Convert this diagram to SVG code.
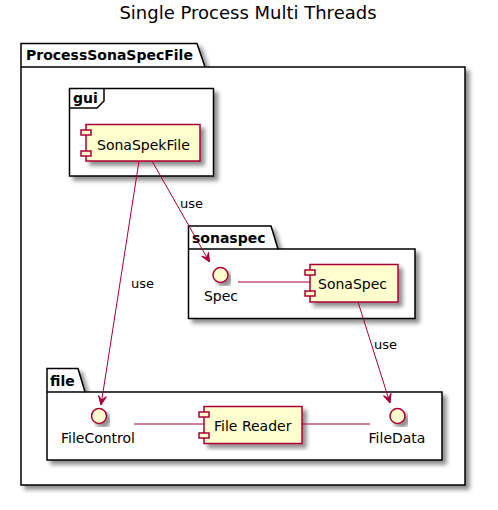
<svg xmlns="http://www.w3.org/2000/svg" width="498" height="510" viewBox="0 0 498 510">
<defs>
<filter id="sh" x="-10%" y="-10%" width="130%" height="130%">
<feGaussianBlur in="SourceAlpha" stdDeviation="2"/>
<feOffset dx="4" dy="4" result="b"/>
<feComponentTransfer><feFuncA type="linear" slope="0.45"/></feComponentTransfer>
<feMerge><feMergeNode/><feMergeNode in="SourceGraphic"/></feMerge>
</filter>
<marker id="arr" markerUnits="userSpaceOnUse" viewBox="0 0 10 10" refX="10" refY="5" markerWidth="10" markerHeight="10" orient="auto">
<path d="M10,5 L1,1 L5,5 L1,9 Z" fill="#A80036" stroke="#A80036" stroke-width="1" stroke-linejoin="miter"/>
</marker>
<style>
text{font-family:"DejaVu Sans","Liberation Sans",sans-serif;fill:#000}
.pkg{fill:#FFFFFF;stroke:#000;stroke-width:1.5}
.pl{font-weight:bold;font-size:14px}
.comp{fill:#FEFECE;stroke:#A80036;stroke-width:1.5}
.lab{font-size:14px}
.el{font-size:13px}
.ln{stroke:#A80036;stroke-width:1;fill:none}
</style>
</defs>
<rect width="498" height="510" fill="#FFFFFF"/>
<text x="248" y="19" font-size="18" text-anchor="middle">Single Process Multi Threads</text>

<g id="ProcessSonaSpecFile">
<path class="pkg" filter="url(#sh)" d="M21,43.5 L197,43.5 L205,67 L465,67 L465,485 L21,485 Z"/>
<line x1="21" y1="67" x2="205" y2="67" stroke="#000" stroke-width="1.5"/>
<text class="pl" x="26" y="60">ProcessSonaSpecFile</text>
</g>

<g id="gui">
<rect class="pkg" filter="url(#sh)" x="69.5" y="88.5" width="144" height="87.5"/>
<path d="M69.5,108 L97,108 L104,101 L104,88.5" fill="none" stroke="#000" stroke-width="1.5"/>
<text class="pl" x="73" y="103">gui</text>
</g>

<g id="sonaspec">
<path class="pkg" filter="url(#sh)" d="M188.5,226 L271,226 L278,249 L415,249 L415,318.5 L188.5,318.5 Z"/>
<line x1="188.5" y1="249" x2="278" y2="249" stroke="#000" stroke-width="1.5"/>
<text class="pl" x="192" y="243">sonaspec</text>
</g>

<g id="file">
<path class="pkg" filter="url(#sh)" d="M47,368.5 L78,368.5 L85,392 L442,392 L442,460 L47,460 Z"/>
<line x1="47" y1="392" x2="85" y2="392" stroke="#000" stroke-width="1.5"/>
<text class="pl" x="50" y="386">file</text>
</g>

<g id="SonaSpekFile">
<rect class="comp" filter="url(#sh)" x="86" y="124.5" width="114" height="36.5"/>
<rect class="comp" x="81" y="130" width="10" height="5"/>
<rect class="comp" x="81" y="151" width="10" height="5"/>
<text class="lab" x="97" y="150">SonaSpekFile</text>
</g>

<g id="SonaSpec">
<rect class="comp" filter="url(#sh)" x="310" y="264.5" width="88" height="37.5"/>
<rect class="comp" x="305" y="270" width="10" height="5"/>
<rect class="comp" x="305" y="291" width="10" height="5"/>
<text class="lab" x="318" y="289">SonaSpec</text>
</g>

<g id="Spec">
<circle class="comp" filter="url(#sh)" cx="220.5" cy="275" r="7.5"/>
<text class="lab" x="221" y="301" text-anchor="middle">Spec</text>
</g>

<g id="FileReader">
<rect class="comp" filter="url(#sh)" x="204" y="406.5" width="98" height="37"/>
<rect class="comp" x="199" y="412" width="10" height="5"/>
<rect class="comp" x="199" y="433" width="10" height="5"/>
<text class="lab" x="214" y="431">File Reader</text>
</g>

<g id="FileControl">
<circle class="comp" filter="url(#sh)" cx="99" cy="416" r="7.5"/>
<text class="lab" x="98" y="443" text-anchor="middle">FileControl</text>
</g>

<g id="FileData">
<circle class="comp" filter="url(#sh)" cx="397.5" cy="416" r="7.5"/>
<text class="lab" x="397" y="443" text-anchor="middle">FileData</text>
</g>

<g id="connectors">
<line class="ln" x1="139" y1="161" x2="101" y2="405" marker-end="url(#arr)"/>
<text class="el" x="131" y="288">use</text>
<line class="ln" x1="152" y1="161" x2="209.5" y2="262" marker-end="url(#arr)"/>
<text class="el" x="180" y="208">use</text>
<line class="ln" x1="358" y1="302" x2="390" y2="403" marker-end="url(#arr)"/>
<text class="el" x="374" y="349">use</text>
<line class="ln" x1="238" y1="282" x2="310" y2="282"/>
<line class="ln" x1="134" y1="424" x2="204" y2="424"/>
<line class="ln" x1="302" y1="424" x2="370" y2="424"/>
</g>
</svg>
